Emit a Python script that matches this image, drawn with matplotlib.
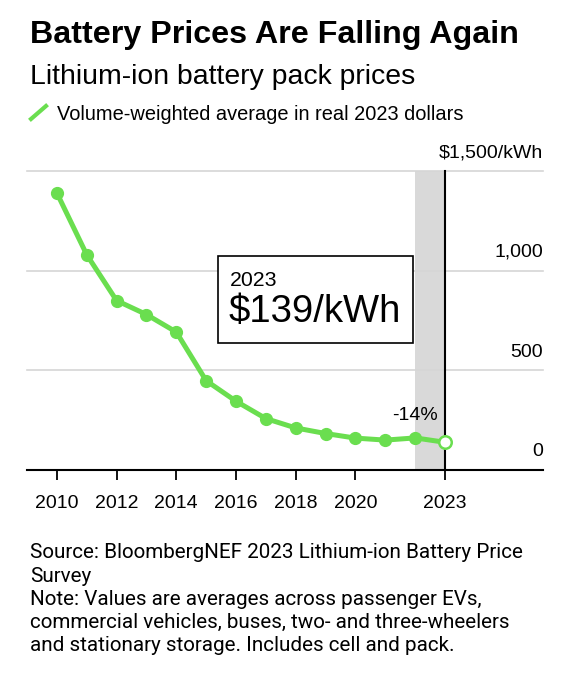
import matplotlib
matplotlib.use("Agg")
import matplotlib.pyplot as plt
from matplotlib.lines import Line2D
from matplotlib.patches import Rectangle
import numpy as np

# data (real 2023 $/kWh)
years = [2010, 2011, 2012, 2013, 2014, 2015, 2016, 2017, 2018, 2019, 2020, 2021, 2022, 2023]
prices = [1390, 1080, 850, 780, 692, 448, 345, 258, 211, 183, 160, 150, 161, 139]
xtick_years = [2010, 2012, 2014, 2016, 2018, 2020, 2023]
ytick_vals = [0, 500, 1000, 1500]
ytick_labels = ["0", "500", "1,000", "$1,500/kWh"]

W, H = 572, 680
GREEN = "#6ade4f"
plt.rcParams['font.family'] = ['Liberation Sans', 'DejaVu Sans']

def fx(x):
    return x / W

def fy(y):
    return 1 - y / H

fig = plt.figure(figsize=(W / 100, H / 100), dpi=100)
ax = fig.add_axes([fx(27), fy(470), fx(543) - fx(27), fy(171) - fy(470)])

ax.set_xlim(2009.0, 2026.28)
ax.set_ylim(0, 1500)

# highlighted last year
ax.axvspan(2022, 2023, color="#d9d9d9", lw=0, zorder=0)

for v in ytick_vals[1:]:
    ax.axhline(v, color="#d6d6d6", lw=1.2, zorder=1, clip_on=False)
ax.axhline(0, color="black", lw=1.5, zorder=3, clip_on=False)
ax.plot([2023, 2023], [0, 1500], color="black", lw=1.5, zorder=3, clip_on=False)

ax.plot(years, prices, color=GREEN, lw=3.6, marker="o", ms=8.5, zorder=4,
        solid_capstyle="round")
ax.plot(years[-1], prices[-1], marker="o", ms=9, mfc="white", mec=GREEN,
        mew=1.8, zorder=5, ls="none")

for v, lab in zip(ytick_vals, ytick_labels):
    ax.annotate(lab, (1.0, v), xycoords=ax.get_yaxis_transform(),
                xytext=(0, 7), textcoords="offset points",
                ha="right", va="bottom", fontsize=14)

ax.set_xticks(xtick_years)
ax.set_xticklabels([str(y) for y in xtick_years])
ax.tick_params(axis="x", direction="out", length=7, width=1.3, pad=11,
               labelsize=14)
ax.set_yticks([])
for s in ax.spines.values():
    s.set_visible(False)
ax.patch.set_alpha(0)

ax.text(2022, 275, "-14%", ha="center", va="center", fontsize=14)

# callout box
fig.add_artist(Rectangle((fx(218), fy(343)), fx(413) - fx(218), fy(256) - fy(343),
                         transform=fig.transFigure, fc="white", ec="black", lw=1.2, zorder=6))
fig.text(fx(230), fy(281), "2023", fontsize=15.3, va="center", zorder=7)
fig.text(fx(229), fy(312), "$%d/kWh" % prices[-1], fontsize=27.5, va="center", zorder=7)

# titles
fig.text(fx(30), fy(42.5), "Battery Prices Are Falling Again", fontsize=23.2,
         fontweight="bold", va="baseline")
fig.text(fx(30), fy(83.5), "Lithium-ion battery pack prices", fontsize=20.4, va="baseline")
fig.add_artist(Line2D([fx(31), fx(46)], [fy(119), fy(106)], color=GREEN, lw=3,
                      transform=fig.transFigure))
fig.text(fx(57), fy(120), "Volume-weighted average in real 2023 dollars",
         fontsize=14.4, va="baseline")

notes = ["Source: BloombergNEF 2023 Lithium-ion Battery Price",
         "Survey",
         "Note: Values are averages across passenger EVs,",
         "commercial vehicles, buses, two- and three-wheelers",
         "and stationary storage. Includes cell and pack."]
for i, line in enumerate(notes):
    fig.text(fx(30), fy(553 + i * 23.2), line, fontsize=14.9, va="center",
             family=["Roboto", "DejaVu Sans"])

fig.savefig("out.png", dpi=100, facecolor="white")
